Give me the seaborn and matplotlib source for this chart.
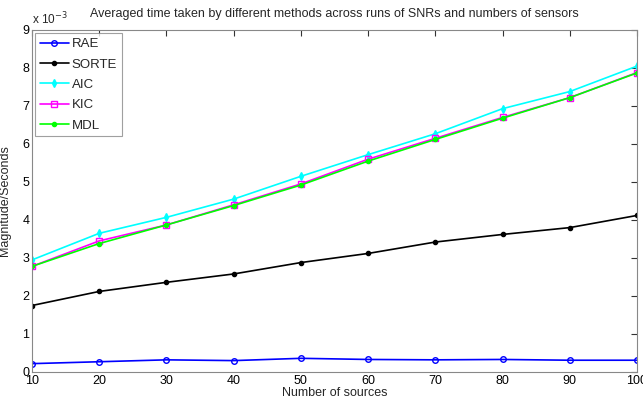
import matplotlib
matplotlib.use("Agg")
import matplotlib.pyplot as plt
import seaborn as sns
import pandas as pd

sources = [10, 20, 30, 40, 50, 60, 70, 80, 90, 100]
rae = [0.22, 0.27, 0.32, 0.30, 0.36, 0.33, 0.32, 0.33, 0.31, 0.31]
sorte = [1.75, 2.12, 2.36, 2.58, 2.88, 3.12, 3.42, 3.62, 3.80, 4.12]
aic = [2.95, 3.65, 4.07, 4.55, 5.15, 5.72, 6.27, 6.93, 7.38, 8.05]
kic = [2.78, 3.45, 3.87, 4.40, 4.95, 5.60, 6.15, 6.70, 7.22, 7.88]
mdl = [2.78, 3.38, 3.87, 4.38, 4.92, 5.55, 6.12, 6.68, 7.22, 7.87]
yticks = [0, 1, 2, 3, 4, 5, 6, 7, 8, 9]

sns.set_style("white")
plt.rcParams['font.family'] = ['Liberation Sans', 'DejaVu Sans']

fig = plt.figure(figsize=(6.43, 4.03), dpi=100)
ax = fig.add_axes([32/643, 31/403, 605/643, 342/403])

series = [
    ("RAE", rae, "#0000ff", "o", "none", 4),
    ("SORTE", sorte, "#000000", "o", "#000000", 3),
    ("AIC", aic, "#00ffff", "d", "#00ffff", 4),
    ("KIC", kic, "#ff00ff", "s", "none", 4),
    ("MDL", mdl, "#00ff00", "o", "#00ff00", 3),
]
for name, vals, col, mk, mfc, ms in series:
    df = pd.DataFrame({"x": sources, "y": vals})
    sns.lineplot(data=df, x="x", y="y", ax=ax, color=col, marker=mk,
                 markerfacecolor=mfc, markeredgecolor=col, markersize=ms,
                 markeredgewidth=1, linewidth=1.2, label=name)

ax.set_xlim(10, 100)
ax.set_ylim(0, 9)
ax.set_xticks(sources)
ax.set_yticks(yticks)
ax.tick_params(direction="in", length=4, labelsize=9, top=True, right=True,
               colors="#333333", labelcolor="black", pad=2)
for s in ax.spines.values():
    s.set_color("#888888")
    s.set_linewidth(0.8)
ax.set_xlabel("Number of sources", fontsize=9, labelpad=0)
ax.set_ylabel("Magnitude/Seconds", fontsize=9, labelpad=0)
ax.yaxis.set_label_coords(-21/605, 0.5)
ax.set_title("Averaged time taken by different methods across runs of SNRs and numbers of sensors",
             fontsize=9, pad=9)
ax.text(0.0, 1.008, r"x 10$^{-3}$", transform=ax.transAxes, fontsize=8.5, ha="left", va="bottom")

leg = ax.legend(loc="upper left", fontsize=9.5, frameon=True, fancybox=False,
                borderpad=0.35, labelspacing=0.62, handlelength=2.2, handletextpad=0.2,
                borderaxespad=0.25)
leg.get_frame().set_edgecolor("#888888")
leg.get_frame().set_linewidth(0.8)

fig.savefig("out.png", dpi=100)
